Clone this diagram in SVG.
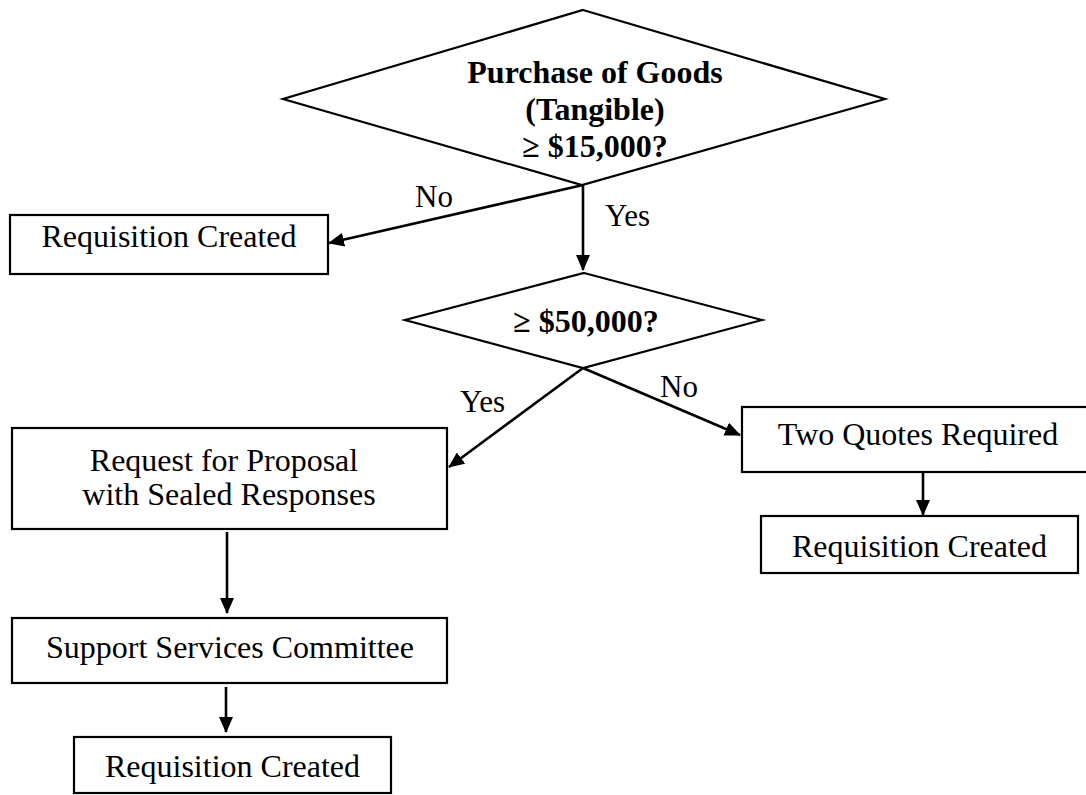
<svg xmlns="http://www.w3.org/2000/svg" width="1086" height="795" viewBox="0 0 1086 795">
<style>
.box{fill:#fff;stroke:#000;stroke-width:2.2}
.dia{fill:#fff;stroke:#000;stroke-width:2.2;stroke-linejoin:miter}
.t{font-family:"Liberation Serif","Times New Roman",serif;font-size:32px;fill:#000;text-anchor:middle}
.b{font-weight:bold}
.lbl{font-family:"Liberation Serif","Times New Roman",serif;font-size:31px;fill:#000}
.con{stroke:#000;stroke-width:2.6;fill:none;marker-end:url(#ah)}
</style>
<defs>
<marker id="ah" markerUnits="userSpaceOnUse" markerWidth="16" markerHeight="14" refX="15" refY="7" orient="auto">
<path d="M0,0 L16,7 L0,14 z" fill="#000"/>
</marker>
</defs>
<rect width="1086" height="795" fill="#fff"/>
<g id="connectors">
<line class="con" x1="583" y1="185" x2="583" y2="270"/>
<line class="con" x1="583" y1="185" x2="329" y2="243"/>
<line class="con" x1="583" y1="368" x2="449" y2="467"/>
<line class="con" x1="583" y1="368" x2="740" y2="435"/>
<line class="con" x1="923" y1="472" x2="923" y2="515"/>
<line class="con" x1="227" y1="532" x2="227" y2="613"/>
<line class="con" x1="226" y1="687" x2="226" y2="732"/>
<text class="lbl" x="415" y="207">No</text>
<text class="lbl" x="605" y="226">Yes</text>
<text class="lbl" x="460" y="412">Yes</text>
<text class="lbl" x="660" y="397">No</text>
</g>
<g id="d1">
<polygon class="dia" points="583,10 885,99 582,185 283,99"/>
<text class="t b" x="595" y="83">Purchase of Goods</text>
<text class="t b" x="595" y="120">(Tangible)</text>
<text class="t b" x="595" y="157">≥ $15,000?</text>
</g>
<g id="d2">
<polygon class="dia" points="584,273 762,320 583,368 405,320"/>
<text class="t b" x="586" y="332">≥ $50,000?</text>
</g>
<g id="n_req1">
<rect class="box" x="10" y="215" width="318" height="59"/>
<text class="t" x="169" y="247">Requisition Created</text>
</g>
<g id="n_rfp">
<rect class="box" x="12" y="428" width="435" height="101"/>
<text class="t" x="224" y="471">Request for Proposal</text>
<text class="t" x="229" y="505">with Sealed Responses</text>
</g>
<g id="n_two">
<rect class="box" x="742" y="407" width="348" height="65"/>
<text class="t" x="918" y="445">Two Quotes Required</text>
</g>
<g id="n_req2">
<rect class="box" x="761" y="516" width="317" height="57"/>
<text class="t" x="919.5" y="557">Requisition Created</text>
</g>
<g id="n_ssc">
<rect class="box" x="12" y="618" width="435" height="65"/>
<text class="t" x="230" y="658">Support Services Committee</text>
</g>
<g id="n_req3">
<rect class="box" x="74" y="737" width="317" height="56"/>
<text class="t" x="232.5" y="777">Requisition Created</text>
</g>
</svg>
